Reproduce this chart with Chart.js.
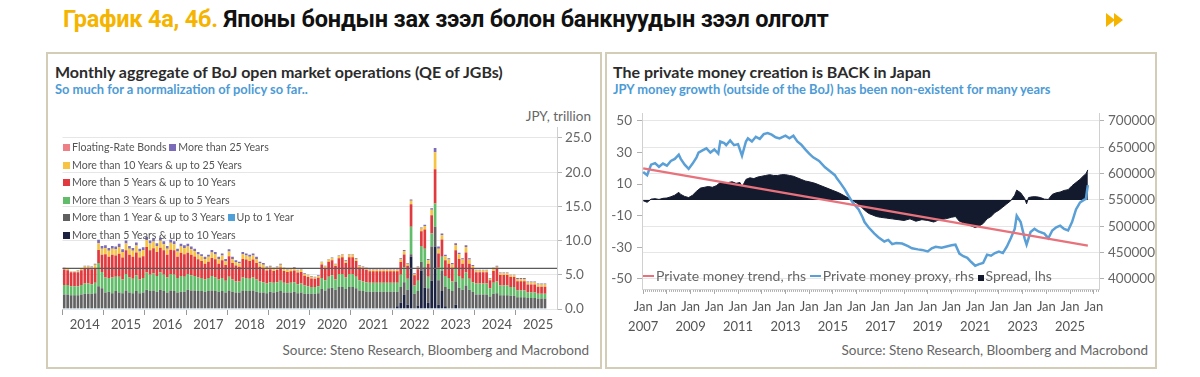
<!DOCTYPE html>
<html><head><meta charset="utf-8">
<script src="https://cdn.jsdelivr.net/npm/chart.js@4.4.1/dist/chart.umd.min.js"></script>
<style>
html,body{margin:0;padding:0;background:#fff;width:1200px;height:377px;overflow:hidden;font-family:Lato,'Noto Sans',sans-serif;}
#title{position:absolute;left:63px;top:5px;font-family:Roboto,'Noto Sans',sans-serif;font-weight:700;font-size:23.5px;color:#111;white-space:nowrap;letter-spacing:-0.2px}
#title .gold{color:#F5B400}
#arrow{position:absolute;left:1106px;top:12px}
.panel{position:absolute;border:2px solid #d3ccb6;box-sizing:border-box}
#p1{left:46px;top:52px;width:556px;height:317px}
#p2{left:605px;top:52px;width:552px;height:317px}
.ptitle{position:absolute;font-weight:700;font-size:16px;color:#2b2b2b;white-space:nowrap}
.psub{position:absolute;font-weight:700;font-size:12.9px;color:#4d9bd6;white-space:nowrap}
.src{position:absolute;font-size:13.5px;color:#666;white-space:nowrap}
.unit{position:absolute;font-size:13.5px;color:#666;white-space:nowrap}
canvas{position:absolute}
#c1{left:47px;top:100px}
#c2{left:606px;top:100px}
.leg{position:absolute;font-size:10.6px;color:#555;white-space:nowrap;line-height:14px;z-index:5}
.sq{display:inline-block;width:7px;height:7px;margin-right:2px;vertical-align:0px}
.leg2{position:absolute;font-size:14px;color:#666;white-space:nowrap;z-index:5;line-height:16px}
.dash{display:inline-block;width:11px;height:2px;vertical-align:4px;margin-right:2px}
</style></head>
<body>
<div id="title"><span class="gold">График 4а, 4б.</span> Японы бондын зах зээл болон банкнуудын зээл олголт</div>
<svg id="arrow" width="26" height="16" viewBox="0 0 26 16"><polygon points="0,1 9,8 0,15" fill="#F5B400"/><polygon points="8,1 17,8 8,15" fill="#F5B400"/></svg>
<div class="panel" id="p1"></div>
<div class="panel" id="p2"></div>
<div class="ptitle" style="left:55px;top:62px">Monthly aggregate of BoJ open market operations (QE of JGBs)</div>
<div class="psub" style="left:55px;top:81px">So much for a normalization of policy so far..</div>
<div class="unit" style="right:609px;top:108px">JPY, trillion</div>
<div class="src" style="right:611px;top:342px">Source: Steno Research, Bloomberg and Macrobond</div>
<div class="ptitle" style="left:613px;top:62px">The private money creation is BACK in Japan</div>
<div class="psub" style="left:613px;top:81px">JPY money growth (outside of the BoJ) has been non-existent for many years</div>
<div class="src" style="right:52px;top:342px">Source: Steno Research, Bloomberg and Macrobond</div>

<div class="leg" style="left:63px;top:140px"><span class="sq" style="background:#ee7f86"></span>Floating-Rate Bonds <span class="sq" style="background:#7b6bb8"></span>More than 25 Years</div>
<div class="leg" style="left:63px;top:157.5px"><span class="sq" style="background:#f6c343"></span>More than 10 Years &amp; up to 25 Years</div>
<div class="leg" style="left:63px;top:175px"><span class="sq" style="background:#e0393e"></span>More than 5 Years &amp; up to 10 Years</div>
<div class="leg" style="left:63px;top:192.5px"><span class="sq" style="background:#62bd6a"></span>More than 3 Years &amp; up to 5 Years</div>
<div class="leg" style="left:63px;top:210px"><span class="sq" style="background:#5f5f5f"></span>More than 1 Year &amp; up to 3 Years <span class="sq" style="background:#4f9fd9"></span>Up to 1 Year</div>
<div class="leg" style="left:63px;top:227.5px"><span class="sq" style="background:#1b2340"></span>More than 5 Years &amp; up to 10 Years</div>

<div class="leg2" style="left:643px;top:268px"><span class="dash" style="background:#e8727b"></span>Private money trend, rhs <span class="dash" style="background:#5a9fd6"></span>Private money proxy, rhs <span class="sq" style="background:#141a2e;width:6px;height:6px"></span>Spread, lhs</div>

<canvas id="c1" width="556" height="240"></canvas>
<canvas id="c2" width="551" height="240"></canvas>

<script>
// ---------- Left chart: BoJ operations (JPY trillion), Jan 2014 - Sep 2025 ----------
const years = [2014,2015,2016,2017,2018,2019,2020,2021,2022,2023,2024,2025];
const refLevel = 5.95;

const floatingRate = [
0,0,0,0,0,0,0,0,0,0,0,0, 0,0,0,0,0,0,0,0,0,0,0,0, 0,0,0,0,0,0,0,0,0,0,0,0,
0,0,0,0,0,0,0,0,0,0,0,0, 0,0,0,0,0,0,0,0,0,0,0,0, 0,0,0,0,0,0,0,0,0,0,0,0,
0,0,0,0,0,0,0,0,0,0,0,0, 0,0,0,0,0,0,0,0,0,0,0,0, 0,0,0,0,0,0,0,0,0,0,0,0,
0,0,0,0,0,0,0,0,0,0,0,0, 0,0,0,0,0,0,0,0,0,0,0,0, 0,0,0,0,0,0,0,0,0];
const upTo1 = [
0.12,0.12,0.12,0.12,0.12,0.12,0.12,0.12,0.12,0.12,0.12,0.12,
0.12,0.12,0.12,0.12,0.12,0.12,0.12,0.12,0.12,0.12,0.12,0.12,
0.12,0.12,0.12,0.12,0.12,0.12,0.12,0.12,0.12,0.12,0.12,0.12,
0.12,0.12,0.12,0.12,0.12,0.12,0.12,0.12,0.12,0.12,0.12,0.12,
0.12,0.12,0.12,0.12,0.12,0.12,0.12,0.12,0.12,0.12,0.12,0.12,
0.12,0.12,0.12,0.12,0.12,0.12,0.12,0.12,0.12,0.12,0.12,0.12,
0.12,0.12,0.12,0.12,0.12,0.12,0.12,0.12,0.12,0.12,0.12,0.12,
0.12,0.12,0.12,0.12,0.12,0.12,0.12,0.12,0.12,0.12,0.12,0.12,
0.12,0.12,0.12,0.12,0.12,0.12,0.12,0.12,0.12,0.12,0.12,0.12,
0.12,0.12,0.12,0.12,0.12,0.12,0.12,0.12,0.12,0.12,0.12,0.12,
0.12,0.12,0.12,0.12,0.12,0.12,0.12,0.12,0.12,0.12,0.12,0.12,
0.12,0.12,0.12,0.12,0.12,0.12,0.12,0.12,0.12];
const fixedRate5to10 = [
0,0,0,0,0,0,0,0,0,0,0,0, 0,0,0,0,0,0,0,0,0,0,0,0, 0,0,0,0,0,0,0,0,0,0,0,0,
0,0,0,0,0,0,0,0,0,0,0,0, 0,0,0,0,0,0,0,0,0,0,0,0, 0,0,0,0,0,0,0,0,0,0,0,0,
0,0,0,0,0,0,0,0,0,0,0,0, 0,0,0,0,0,0,0,0,0,0,0,0,
0,0.3,0.8,2.0,0.5,7.5,0,0.4,5.5,3.0,0.8,4.0,
9.0,0.5,2.5,0.3,0,0,0.5,0,0,0,0,0,
0,0,0,0,0,0,0,0,0,0,0,0, 0,0,0,0,0,0,0,0,0];
const y1to3 = [
2.0,2.0,1.9,1.9,1.9,2.0,2.1,2.1,2.1,2.2,3.2,2.9,
2.3,2.4,2.2,2.5,2.3,2.2,2.6,2.3,2.2,2.5,2.2,2.3,
2.7,2.5,2.6,2.4,2.7,2.5,2.3,2.6,2.5,2.3,2.4,2.4,
2.7,2.6,2.6,2.5,2.5,2.4,2.5,2.6,2.5,2.4,2.5,2.3,
2.6,2.4,2.3,2.3,2.6,2.5,2.5,2.6,2.4,2.3,2.3,2.2,
2.4,2.3,2.4,2.5,2.3,2.3,2.3,2.4,2.2,2.3,2.1,2.1,
2.1,2.1,2.2,2.8,2.6,2.9,3.0,2.7,3.1,3.1,2.8,3.1,
3.1,2.9,2.6,2.5,2.4,2.4,2.4,2.4,2.4,2.4,2.4,2.4,
2.4,2.1,2.3,1.8,2.2,0.4,2.1,2.1,1.3,3.0,2.1,5.0,
2.9,3.6,3.0,2.8,2.8,2.5,3.4,3.0,2.7,3.3,2.7,2.4,
2.0,2.0,2.0,2.0,1.7,2.1,2.2,1.9,1.9,1.9,1.8,1.8,
1.6,1.6,1.6,1.5,1.5,1.5,1.4,1.4,1.4];
const y3to5 = [
1.4,1.4,1.3,1.3,1.3,1.4,1.5,1.5,1.4,1.5,3.4,2.4,
2.2,2.0,2.3,2.1,2.3,2.0,2.4,2.2,2.1,2.3,2.0,2.1,
2.5,2.4,2.5,2.3,2.5,2.4,2.2,2.4,2.4,2.1,2.3,2.2,
2.3,2.2,2.1,2.0,1.9,1.8,1.9,2.1,2.0,1.8,1.9,1.7,
2.0,1.8,1.6,1.6,1.9,1.9,1.8,1.9,1.8,1.6,1.5,1.4,
1.4,1.4,1.4,1.5,1.4,1.3,1.4,1.4,1.3,1.3,1.2,1.1,
1.0,1.0,1.0,1.6,1.5,1.7,1.8,1.5,1.9,1.9,1.7,1.9,
1.9,1.7,1.5,1.4,1.4,1.3,1.3,1.3,1.3,1.3,1.3,1.3,
1.3,1.3,1.8,2.2,1.6,4.0,1.2,1.5,2.3,2.7,1.7,1.9,
3.4,1.8,2.0,1.6,1.6,1.4,1.9,1.7,1.6,1.9,1.6,1.4,
1.6,1.6,1.6,1.6,1.2,1.6,1.7,1.4,1.4,1.4,1.3,1.3,
1.0,1.0,1.0,0.8,0.8,0.8,0.7,0.7,0.7];
const y5to10 = [
2.25,2.15,2.05,2.05,2.05,2.15,2.2,2.2,2.2,2.15,1.9,2.5,
3.4,3.1,3.3,3.1,3.35,3.2,3.45,3.3,3.2,3.35,3.2,3.2,
3.75,3.55,3.65,3.5,3.65,3.55,3.3,3.55,3.55,3.1,3.4,3.3,
3.1,3.0,2.85,2.65,2.5,2.3,2.4,2.65,2.65,2.3,2.6,2.3,
3.0,2.4,2.35,2.15,2.7,2.7,2.6,2.6,2.4,2.15,2.05,1.9,
1.9,1.75,1.8,1.95,1.75,1.7,1.7,1.7,1.7,1.7,1.45,1.35,
1.25,1.2,1.25,2.0,1.75,2.2,2.2,1.95,2.3,2.45,2.1,2.45,
2.45,2.3,1.85,1.85,1.8,1.7,1.7,1.7,1.7,1.7,1.7,1.7,
1.7,1.7,1.85,1.85,1.9,3.3,1.5,1.7,2.15,2.8,1.9,2.7,
5.0,2.1,2.55,2.3,2.1,2.0,2.65,2.5,2.2,2.95,2.2,1.95,
1.65,1.65,1.65,1.65,1.2,1.75,1.85,1.55,1.55,1.55,1.45,1.45,
1.35,1.35,1.35,1.15,1.15,1.15,1.05,1.05,1.05];
const y10to25 = [
0.2,0.2,0.1,0.1,0.2,0.2,0.3,0.3,0.3,0.5,1.0,0.9,
0.9,0.9,0.9,0.9,1.0,0.8,1.0,0.9,0.9,1.0,0.9,0.9,
1.0,1.0,1.0,0.9,1.0,0.9,0.9,1.0,0.9,0.8,0.9,0.9,
0.9,0.8,0.8,0.7,0.7,0.7,0.7,0.8,0.7,0.7,0.7,0.6,
0.7,0.6,0.5,0.5,0.7,0.6,0.6,0.6,0.6,0.5,0.5,0.4,
0.35,0.3,0.35,0.4,0.3,0.3,0.3,0.35,0.3,0.3,0.25,0.25,
0.25,0.2,0.25,0.3,0.25,0.3,0.3,0.25,0.3,0.35,0.3,0.35,
0.35,0.3,0.25,0.25,0.2,0.2,0.2,0.2,0.2,0.2,0.2,0.2,
0.2,0.2,0.4,0.5,0.3,0.5,0.2,0.3,0.4,0.5,0.5,0.8,
2.5,0.7,0.6,0.6,0.6,0.5,0.8,0.7,0.6,0.8,0.6,0.4,
0.25,0.25,0.25,0.25,0.2,0.3,0.3,0.25,0.25,0.25,0.25,0.25,
0.3,0.3,0.3,0.3,0.3,0.3,0.3,0.3,0.3];
const over25 = [
0.05,0.05,0.05,0.05,0.05,0.05,0.1,0.1,0.1,0.15,0.5,0.4,
0.4,0.4,0.4,0.4,0.45,0.4,0.45,0.4,0.4,0.45,0.4,0.4,
0.45,0.45,0.45,0.4,0.45,0.45,0.4,0.45,0.45,0.4,0.4,0.4,
0.4,0.4,0.35,0.35,0.3,0.3,0.3,0.35,0.35,0.3,0.3,0.3,
0.3,0.3,0.25,0.25,0.3,0.3,0.3,0.3,0.3,0.25,0.25,0.2,
0.15,0.15,0.15,0.15,0.15,0.1,0.1,0.15,0.1,0.1,0.1,0.1,
0.1,0.1,0.1,0.1,0.1,0.1,0.1,0.1,0.1,0.1,0.1,0.1,
0.1,0.1,0.1,0.1,0.1,0.1,0.1,0.1,0.1,0.1,0.1,0.1,
0.1,0.1,0.15,0.15,0.1,0.2,0.1,0.1,0.15,0.2,0.2,0.2,
0.6,0.3,0.25,0.2,0.2,0.2,0.25,0.2,0.2,0.25,0.2,0.15,
0.1,0.1,0.1,0.1,0.1,0.15,0.15,0.1,0.1,0.1,0.1,0.1,
0.15,0.15,0.15,0.15,0.15,0.15,0.15,0.15,0.15];

// ---------- Right chart: private money (rhs) and spread (lhs) ----------
const rightTicks = [400000,450000,500000,550000,600000,650000,700000];
const proxyDates = ['2007-01','2007-03','2007-05','2007-07','2007-09','2007-11','2008-01','2008-03','2008-05','2008-07','2008-08','2008-10','2008-12',
'2009-02','2009-04','2009-05','2009-07','2009-09','2009-11','2010-01','2010-03','2010-04','2010-06','2010-07','2010-09','2010-11',
'2011-01','2011-03','2011-05','2011-06','2011-08','2011-10','2011-12','2012-02','2012-04','2012-06','2012-08','2012-10',
'2013-01','2013-03','2013-05','2013-07','2013-09','2013-11','2014-01','2014-03','2014-06','2014-09','2014-12',
'2015-02','2015-03','2015-05','2015-07','2015-09','2015-11','2016-02','2016-04','2016-05','2016-07','2016-10','2016-12',
'2017-03','2017-05','2017-07','2017-09','2017-12','2018-03','2018-05','2018-08','2018-10','2019-01','2019-03','2019-05','2019-08','2019-10',
'2020-01','2020-03','2020-05','2020-07','2020-09','2020-11','2021-01','2021-03','2021-05','2021-07','2021-09','2021-11',
'2022-01','2022-03','2022-05','2022-07','2022-09','2022-10','2022-12','2023-02','2023-03','2023-05','2023-07','2023-09','2023-12',
'2024-02','2024-04','2024-06','2024-08','2024-10','2024-12','2025-02','2025-04','2025-06','2025-08','2025-09','2025-10'];
const proxyVals = [603000,597000,617000,620000,613000,619000,615000,624000,628000,636000,628000,617000,609000,
619000,631000,640000,644000,648000,640000,646000,638000,661000,658000,654000,663000,654000,
656000,634000,661000,667000,661000,670000,666000,675000,677000,674000,669000,667000,
672000,667000,672000,661000,655000,646000,638000,631000,624000,612000,603000,
597000,591000,581000,570000,557000,545000,532000,517000,508000,498000,486000,479000,
471000,474000,466000,468000,467000,462000,458000,456000,455000,452000,458000,461000,459000,461000,
464000,465000,448000,443000,440000,432000,425000,428000,430000,446000,444000,449000,
452000,449000,461000,477000,495000,520000,508000,477000,465000,489000,495000,490000,486000,
477000,492000,498000,501000,495000,492000,508000,532000,545000,550000,552000,578000];

const trendDates = ['2007-01','2025-10'];
const trendVals = [610000,463000];

const spreadDates = ['2007-01','2007-03','2007-05','2007-07','2007-09','2007-11','2008-01','2008-03','2008-05','2008-07','2008-08','2008-10','2008-12',
'2009-02','2009-04','2009-06','2009-08','2009-10','2009-12','2010-02','2010-04','2010-06','2010-08','2010-10','2010-12',
'2011-02','2011-03','2011-05','2011-07','2011-09','2011-11','2012-01','2012-03','2012-05','2012-07','2012-09','2012-11',
'2013-01','2013-03','2013-05','2013-07','2013-09','2013-11','2014-01','2014-04','2014-07','2014-10',
'2015-01','2015-04','2015-07','2015-09','2015-11','2016-01','2016-03','2016-05','2016-07','2016-09','2016-11',
'2017-01','2017-04','2017-07','2017-10','2018-01','2018-04','2018-07','2018-10','2019-01','2019-04','2019-07','2019-10',
'2020-01','2020-03','2020-05','2020-08','2020-11','2021-01','2021-03','2021-05','2021-07','2021-09','2021-11',
'2022-01','2022-03','2022-05','2022-07','2022-09','2022-10','2022-12','2023-02','2023-03','2023-04','2023-06','2023-08','2023-10','2023-12',
'2024-02','2024-04','2024-06','2024-08','2024-10','2024-12','2025-02','2025-04','2025-06','2025-08','2025-09','2025-10'];
const spreadVals = [-0.5,-1.5,0.5,0.8,0.3,1.0,1.2,2.0,3.0,4.8,3.5,2.2,1.5,
3.0,5.5,7.5,8.0,8.5,8.0,9.0,11.0,10.5,11.0,11.5,10.5,
11.0,8.0,13.0,14.0,13.5,14.5,15.0,15.5,16.0,15.5,15.5,16.0,
16.0,15.5,15.0,14.0,13.0,12.0,11.5,10.5,9.0,7.5,
6.0,4.5,2.5,1.0,-0.5,-2.0,-4.0,-6.5,-8.5,-9.5,-10.5,
-11.0,-11.5,-12.0,-12.5,-13.0,-12.0,-13.5,-12.5,-13.0,-14.0,-12.5,-12.0,
-11.0,-10.5,-13.5,-15.0,-16.5,-17.5,-16.5,-15.0,-12.0,-10.5,-8.0,
-6.5,-4.5,-2.5,-0.5,3.0,6.2,4.5,1.0,-2.5,1.5,2.0,2.0,1.5,0.5,
0.3,3.5,4.5,5.0,6.0,6.5,9.0,11.0,13.0,15.5,16.5,19.0];

// ---------- helpers ----------
const monthLabels = [];
years.forEach(y => { for (let m = 1; m <= 12; m++) monthLabels.push(y + '-' + String(m).padStart(2, '0')); });
const toYear = s => { const p = s.split('-'); return +p[0] + (+p[1] - 1) / 12; };
const pts = (d, v) => d.map((s, i) => ({x: toYear(s), y: v[i]}));

Chart.defaults.font.family = "Lato, 'Noto Sans', sans-serif";
Chart.defaults.animation = false;
Chart.defaults.plugins.legend.display = false;
Chart.defaults.plugins.tooltip.enabled = false;

const refLinePlugin = {
  id: 'refLine',
  afterDatasetsDraw(chart) {
    const {ctx, chartArea, scales} = chart;
    const y = scales.y.getPixelForValue(refLevel);
    ctx.save();
    ctx.strokeStyle = '#5a5a5a'; ctx.lineWidth = 1.3;
    ctx.beginPath(); ctx.moveTo(chartArea.left, y); ctx.lineTo(chartArea.right, y); ctx.stroke();
    ctx.restore();
  }
};

const barDs = (label, data, color) => ({label, data, backgroundColor: color, borderWidth: 0, barPercentage: 0.78, categoryPercentage: 1, stack: 's'});

new Chart(document.getElementById('c1'), {
  type: 'bar',
  data: {
    labels: monthLabels,
    datasets: [
      barDs('Up to 1 Year', upTo1, '#4f9fd9'),
      barDs('More than 5 Years & up to 10 Years', fixedRate5to10, '#1b2340'),
      barDs('More than 1 Year & up to 3 Years', y1to3, '#626262'),
      barDs('More than 3 Years & up to 5 Years', y3to5, '#62bd6a'),
      barDs('More than 5 Years & up to 10 Years', y5to10, '#e0393e'),
      barDs('More than 10 Years & up to 25 Years', y10to25, '#f6c343'),
      barDs('More than 25 Years', over25, '#7b6bb8'),
      barDs('Floating-Rate Bonds', floatingRate, '#ee7f86')
    ]
  },
  options: {
    responsive: false,
    layout: {padding: {left: 15.5, top: 27.7, right: 0, bottom: 0}},
    scales: {
      x: {
        stacked: true, offset: true,
        grid: {offset: true, drawOnChartArea: false, drawTicks: true, tickLength: 6,
               color: c => (c.index % 12 === 0) ? '#9a9a9a' : 'rgba(0,0,0,0)'},
        border: {display: false},
        ticks: {autoSkip: false, maxRotation: 0, minRotation: 0, padding: 2, color: '#555', font: {size: 13},
                callback: (v, i) => (i % 12 === 6) ? String(years[Math.floor(i / 12)]) : ''},
        afterFit: s => { s.height = 31; }
      },
      y: {
        stacked: true, position: 'right', min: 0, max: 26.5,
        grid: {color: '#e6e6e6', tickColor: '#b5b5b5', tickLength: 5},
        border: {color: '#cfcfcf'},
        ticks: {stepSize: 2.5, includeBounds: false, padding: 3, color: '#666', font: {size: 13.5},
                callback: v => (Math.abs(v % 5) < 1e-9) ? v.toFixed(1) : ''},
        afterFit: s => { s.width = 46; }
      }
    }
  },
  plugins: [refLinePlugin]
});

const monthTicksPlugin = {
  id: 'monthTicks',
  afterDraw(chart) {
    const {ctx, scales} = chart;
    const xs = scales.x, b = chart.chartArea.bottom;
    ctx.save(); ctx.strokeStyle = '#b0b0b0'; ctx.lineWidth = 1;
    for (let y = Math.ceil(xs.min) - 1; y < xs.max; y++) {
      for (let m = 1; m < 12; m++) {
        const v = y + m / 12; if (v < xs.min || v > xs.max) continue;
        const px = Math.round(xs.getPixelForValue(v)) + 0.5;
        ctx.beginPath(); ctx.moveTo(px, b); ctx.lineTo(px, b + 2); ctx.stroke();
      }
    }
    ctx.restore();
  }
};

new Chart(document.getElementById('c2'), {
  type: 'line',
  data: {
    datasets: [
      {label: 'Spread, lhs', data: pts(spreadDates, spreadVals), yAxisID: 'yL', borderColor: '#141a2e', backgroundColor: '#141a2e',
       borderWidth: 1, pointRadius: 0, fill: 'origin', tension: 0, order: 3},
      {label: 'Private money proxy, rhs', data: pts(proxyDates, proxyVals), yAxisID: 'yR', borderColor: '#5a9fd6',
       borderWidth: 2.5, pointRadius: 0, fill: false, tension: 0, order: 2},
      {label: 'Private money trend, rhs', data: pts(trendDates, trendVals), yAxisID: 'yR', borderColor: '#e8727b',
       borderWidth: 2.2, pointRadius: 0, fill: false, tension: 0, order: 1}
    ]
  },
  options: {
    responsive: false,
    layout: {padding: {left: 0, top: 7.9, right: 0, bottom: 0}},
    scales: {
      x: {
        type: 'linear', min: 2006.95, max: 2026.22,
        grid: {drawOnChartArea: false, tickLength: 4, color: '#a8a8a8'},
        border: {color: '#d5d5d5'},
        ticks: {stepSize: 1, includeBounds: false, autoSkip: false, maxRotation: 0, minRotation: 0, padding: 3,
                color: '#555', font: {size: 13, lineHeight: 1.55},
                callback: v => ['Jan', (v % 2 === 1) ? String(v) : '']},
        afterFit: s => { s.height = 50.1; }
      },
      yL: {
        position: 'left', min: -57, max: 55,
        grid: {drawOnChartArea: false, tickLength: 5, color: '#b0b0b0'},
        border: {color: '#d0d0d0'},
        ticks: {stepSize: 10, includeBounds: false, padding: 5, color: '#666', font: {size: 13.5},
                callback: v => (Math.abs(Math.round(v / 10)) % 2 === 1) ? String(v) : ''},
        afterFit: s => { s.width = 36; }
      },
      yR: {
        position: 'right', min: 379000, max: 715000,
        grid: {color: '#e6e6e6', tickColor: '#b0b0b0', tickLength: 5},
        border: {color: '#d0d0d0'},
        afterBuildTicks: s => { s.ticks = rightTicks.map(v => ({value: v})); },
        ticks: {padding: 4, color: '#666', font: {size: 13.5}, callback: v => String(v)},
        afterFit: s => { s.width = 58; }
      }
    }
  },
  plugins: [monthTicksPlugin]
});
</script>
</body></html>
